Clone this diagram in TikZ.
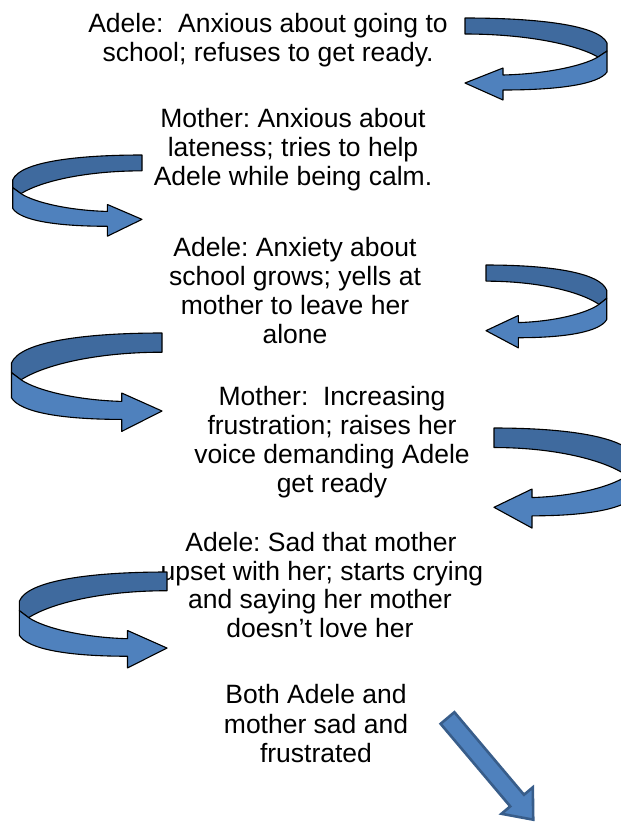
\documentclass[tikz,border=0pt]{standalone}
\usepackage{fontspec}
\setmainfont{Liberation Sans}
\frenchspacing
\definecolor{curlD}{HTML}{3F6A9E}
\definecolor{curlL}{HTML}{4F81BD}
\definecolor{arrB}{HTML}{385D8A}
\tikzset{
  txt/.style={anchor=base, inner sep=0pt, font=\fontsize{26.5pt}{29pt}\selectfont},
  curldark/.style={fill=curlD, draw=black, line width=1.1pt, line join=round},
  curllight/.style={fill=curlL, draw=black, line width=1.1pt, line join=round},
  bigarrow/.style={fill=curlL, draw=arrB, line width=2.6pt, line join=miter}
}
\newcommand{\curlarrow}[4]{%
  \begin{scope}[shift={(#1,#2)}, xscale=#3, yscale=#4]
    \path[curldark] (0,0) .. controls (72,0) and (134,7) .. (142,25) -- (142,33) -- (133,39)
      .. controls (110,26) and (60,16) .. (0,16) -- cycle;
    \path[curllight] (133,39) -- (142,33) -- (142,54) .. controls (134,66) and (95,72) .. (38,72)
      -- (38,82) -- (0,65) -- (38,50) -- (38,57) .. controls (80,56) and (118,48) .. (133,39) -- cycle;
  \end{scope}}
\begin{document}
\begin{tikzpicture}[x=1pt,y=-1pt]
\clip (0,0) rectangle (621,823);
\fill[white] (0,0) rectangle (621,823);
% text blocks
\node[txt] (t1a) at (268,32) {Adele:~ Anxious about going to};
\node[txt] (t1b) at (268,61) {school; refuses to get ready.};
\node[txt] (t2a) at (293,127) {Mother: Anxious about};
\node[txt] (t2b) at (293,156) {lateness; tries to help};
\node[txt] (t2c) at (293,185) {Adele while being calm.};
\node[txt] (t3a) at (295,256) {Adele: Anxiety about};
\node[txt] (t3b) at (295,285) {school grows; yells at};
\node[txt] (t3c) at (295,314) {mother to leave her};
\node[txt] (t3d) at (295,343) {alone};
\node[txt] (t4a) at (332,405) {Mother:~ Increasing};
\node[txt] (t4b) at (332,434) {frustration; raises her};
\node[txt] (t4c) at (332,463) {voice demanding Adele};
\node[txt] (t4d) at (332,492) {get ready};
\node[txt] (t5a) at (321,551) {Adele: Sad that mother};
\node[txt] (t5b) at (322,580) {upset with her; starts crying};
\node[txt] (t5c) at (320,608) {and saying her mother};
\node[txt] (t5d) at (320,637) {doesn’t love her};
\node[txt] (t6a) at (316,703) {Both Adele and};
\node[txt] (t6b) at (316,733) {mother sad and};
\node[txt] (t6c) at (316,762) {frustrated};
% curled arrows
\curlarrow{465}{18}{1}{1}
\curlarrow{142}{155}{-0.91}{0.99}
\curlarrow{486}{265}{0.85}{1.01}
\curlarrow{162}{333}{-1.06}{1.2}
\curlarrow{494}{428}{1.0}{1.22}
\curlarrow{167}{572}{-1.04}{1.17}
% final straight arrow
\begin{scope}[shift={(447.5,718)}, rotate=-49.86]
  \path[bigarrow] (0,9) -- (108,9) -- (108,20.5) -- (133,0) -- (108,-20.5) -- (108,-9) -- (0,-9) -- cycle;
\end{scope}
\end{tikzpicture}
\end{document}
